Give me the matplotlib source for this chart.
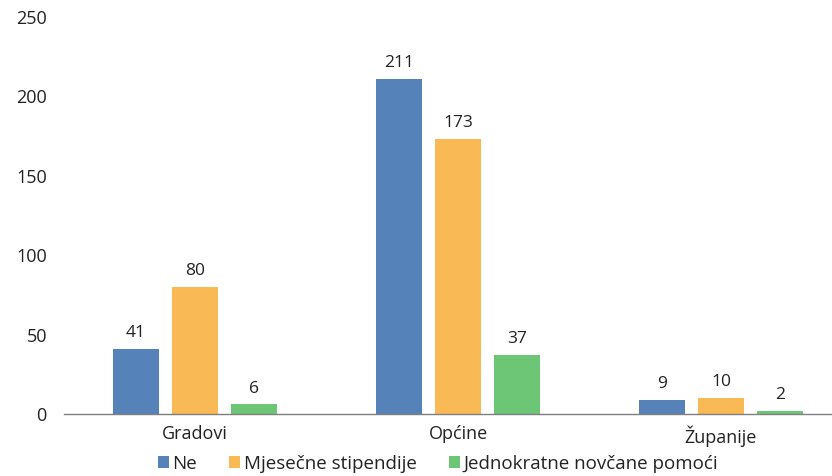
import numpy as np
import matplotlib
matplotlib.use('Agg')
import matplotlib.pyplot as plt

categories = ['Gradovi', 'Općine', 'Županije']
series_names = ['Ne', 'Mjesečne stipendije', 'Jednokratne novčane pomoći']
ne = [41, 211, 9]
mjesecne = [80, 173, 10]
jednokratne = [6, 37, 2]
yticks = [0, 50, 100, 150, 200, 250]

colors = ['#5682BA', '#F9B954', '#6CC676']
text_color = '#222222'

plt.rcParams['font.family'] = ['Open Sans', 'DejaVu Sans']

fig = plt.figure(figsize=(8.32, 4.76), dpi=100)
# axes extends past the right edge, like the cropped original
ax = fig.add_axes([63.5 / 832, (476 - 414) / 476, 789 / 832, (414 - 17) / 476])

x = np.arange(len(categories))
width = 0.175
step = 0.224
for i, (vals, name, c) in enumerate(zip([ne, mjesecne, jednokratne], series_names, colors)):
    bars = ax.bar(x + (i - 1) * step, vals, width, color=c, label=name)
    for b, v in zip(bars, vals):
        ax.text(b.get_x() + b.get_width() / 2, v + 5, str(v), ha='center', va='bottom',
                fontsize=12.5, color=text_color)

ax.set_xlim(-0.5, 2.5)
ax.set_ylim(0, 250)
ax.set_yticks(yticks)
ax.set_xticks(x)
ax.set_xticklabels(categories, fontsize=13, color=text_color)
ax.tick_params(axis='y', length=0, labelsize=13, labelcolor=text_color, pad=12)
ax.tick_params(axis='x', length=0, pad=8)
for s in ['top', 'right', 'left']:
    ax.spines[s].set_visible(False)
ax.spines['bottom'].set_color('#7f7f7f')
ax.spines['bottom'].set_linewidth(1.0)

fig.legend(loc='center', bbox_to_anchor=(438 / 832, 1 - 464 / 476), ncol=3, frameon=False,
           fontsize=13.5, handlelength=0.6, handleheight=0.6, handletextpad=0.2,
           columnspacing=1.7, labelcolor=text_color)

fig.savefig('out.png', dpi=100)
